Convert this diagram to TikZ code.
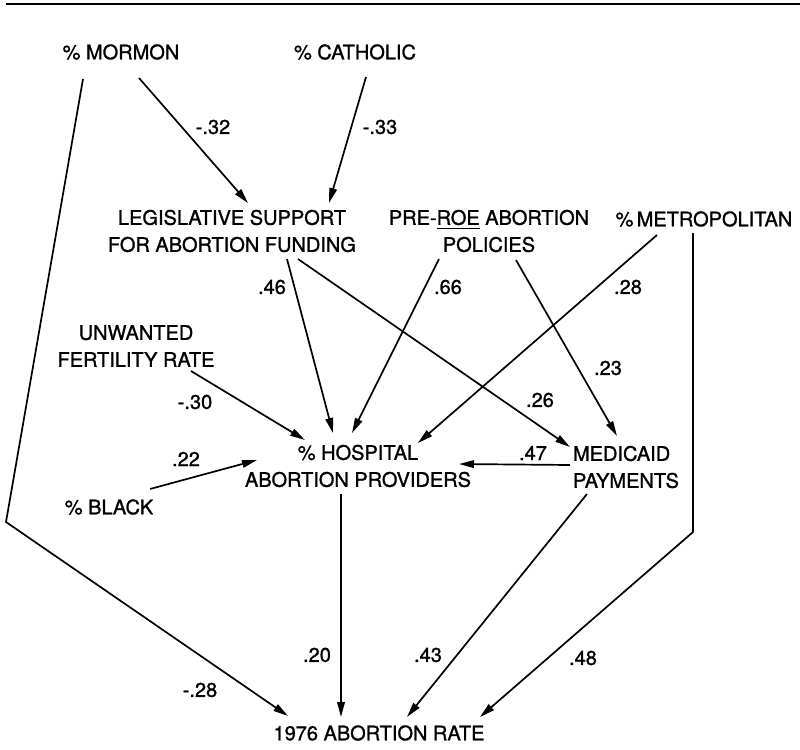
\documentclass[tikz,border=0pt]{standalone}
\usepackage{fontspec}
\setmainfont{TeX Gyre Heros}[FakeBold=1.2]
\usepackage{tikz}
\usetikzlibrary{arrows.meta}

\tikzset{
  var/.style={font=\fontsize{10}{13.5}\selectfont, align=center, inner sep=0pt},
  coef/.style={font=\fontsize{10}{12}\selectfont, inner sep=0pt},
  link/.style={line width=0.85pt, -{Triangle[length=7.5pt,width=3.8pt]}}
}

\begin{document}
\begin{tikzpicture}[x=0.5pt,y=-0.5pt]
\useasboundingbox (0,0) rectangle (800,750);
\draw[line width=1pt] (6,3.5)--(800,3.5);
% variables
\node[var] (mormon) at (121,52) {\% MORMON};
\node[var] (catholic) at (355,52) {\% CATHOLIC};
\node[var] (legis) at (232,231) {LEGISLATIVE SUPPORT\\FOR ABORTION FUNDING};
\node[var] (preroe) at (489,231) {PRE-\underline{ROE} ABORTION\\POLICIES};
\node[var] (metro) at (704,219) {\%\,METROPOLITAN};
\node[var] (unwanted) at (136,346) {UNWANTED\\FERTILITY RATE};
\node[var] (black) at (109,507) {\% BLACK};
\node[var] (hosp) at (358,466) {\% HOSPITAL\\ABORTION PROVIDERS};
\node[var, align=left] (medicaid) at (626,467) {MEDICAID\\PAYMENTS};
\node[var] (rate) at (379,733) {1976 ABORTION RATE};
\coordinate (bendL) at (6,522);
\coordinate (bendR) at (693,532);
% paths
\draw[link] ([shift={(18,26)}]mormon.center)--([shift={(16,-28)}]legis.center);
\draw[link] ([shift={(11,25)}]catholic.center)--([shift={(97,-28)}]legis.center);
\draw[link] ([shift={(-38,27)}]mormon.center)--(bendL)--([shift={(-91,-17)}]rate.center);
\draw[link] ([shift={(55,28)}]legis.center)--([shift={(-25,-33)}]hosp.center);
\draw[link] ([shift={(66,28)}]legis.center)--([shift={(-56,-20)}]medicaid.center);
\draw[link] ([shift={(-50,28)}]preroe.center)--([shift={(-6,-33)}]hosp.center);
\draw[link] ([shift={(27,29)}]preroe.center)--([shift={(-9,-31)}]medicaid.center);
\draw[link] ([shift={(-47,16)}]metro.center)--([shift={(60,-23)}]hosp.center);
\draw[link] ([shift={(-11,14)}]metro.center)--(bendR)--([shift={(101,-16)}]rate.center);
\draw[link] ([shift={(55,25)}]unwanted.center)--([shift={(-53,-26)}]hosp.center);
\draw[link] ([shift={(41,-18)}]black.center)--([shift={(-101,-6)}]hosp.center);
\draw[link] ([shift={(-56,-2)}]medicaid.center)--([shift={(101,-2)}]hosp.center);
\draw[link] ([shift={(-17,28)}]hosp.center)--([shift={(-38,-16)}]rate.center);
\draw[link] ([shift={(-39,27)}]medicaid.center)--([shift={(28,-16)}]rate.center);
% coefficients
\node[coef] (cMorLeg) at (213,127) {-.32};
\node[coef] (cCatLeg) at (380,127) {-.33};
\node[coef] (cMorRate) at (200,690) {-.28};
\node[coef] (cLegHosp) at (272,287) {.46};
\node[coef] (cLegMed) at (540,400) {.26};
\node[coef] (cPreHosp) at (448,287) {.66};
\node[coef] (cPreMed) at (608,368) {.23};
\node[coef] (cMetHosp) at (628,287) {.28};
\node[coef] (cMetRate) at (583,658) {.48};
\node[coef] (cUnwHosp) at (195,402) {-.30};
\node[coef] (cBlkHosp) at (186,459) {.22};
\node[coef] (cMedHosp) at (533,453) {.47};
\node[coef] (cHospRate) at (317,655) {.20};
\node[coef] (cMedRate) at (428,655) {.43};
\end{tikzpicture}
\end{document}
